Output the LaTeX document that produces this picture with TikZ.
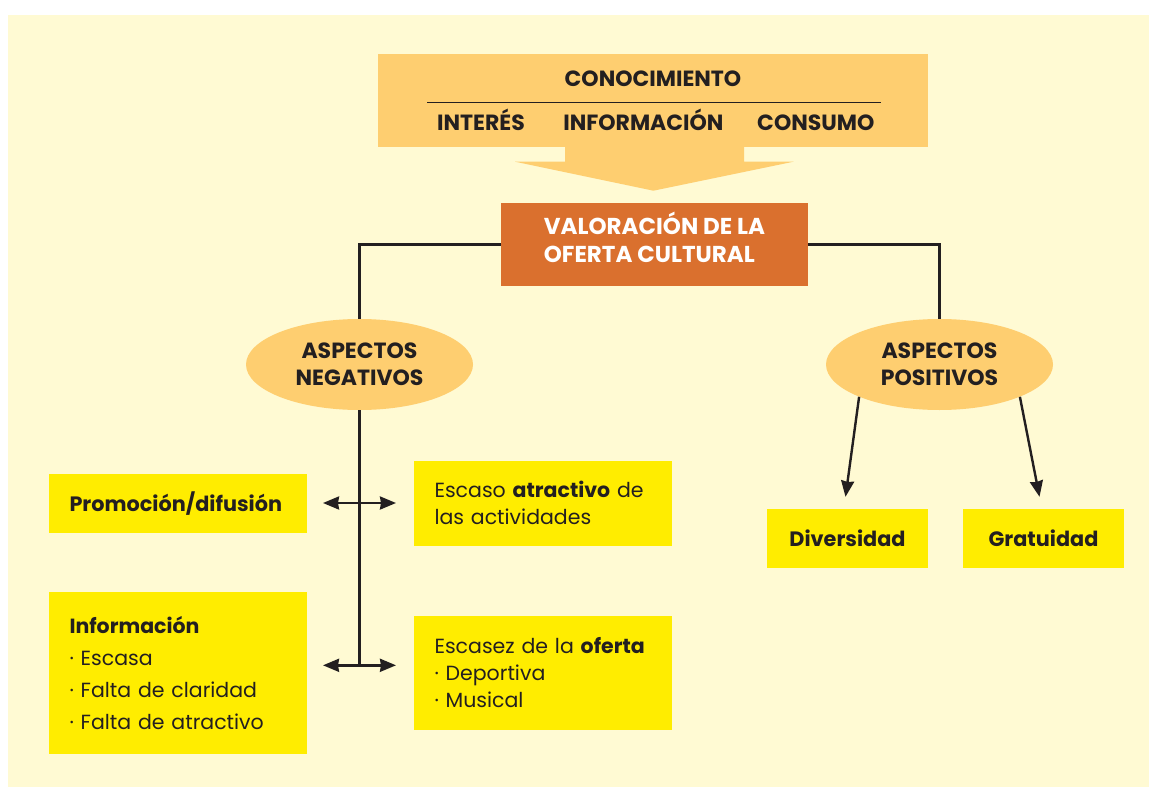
\documentclass[tikz,border=0pt]{standalone}
\usepackage{fontspec}
\setmainfont{Poppins}
\usetikzlibrary{shapes.geometric,arrows.meta}
\definecolor{fondo}{HTML}{FFFAD3}
\definecolor{crema}{HTML}{FECE70}
\definecolor{naranja}{HTML}{DA702E}
\definecolor{amarillo}{HTML}{FFED00}
\definecolor{tinta}{HTML}{231F20}
\begin{document}
\begin{tikzpicture}[x=1pt,y=-1pt,every node/.style={text=tinta,font=\fontsize{20.5}{27}\selectfont},
	negrita/.style={font=\bfseries\fontsize{20.8}{27}\selectfont},
	mayus/.style={font=\bfseries\fontsize{22}{27}\selectfont},
	caja/.style={fill=amarillo,minimum width=258pt,text width=216pt,inner xsep=21pt,align=left},
	cajita/.style={negrita,fill=amarillo,minimum width=161pt,minimum height=59pt},
	aspecto/.style={mayus,ellipse,fill=crema,minimum width=227pt,minimum height=91pt,inner sep=0pt,align=center},
	linea/.style={draw=tinta,line width=2.4pt},
	doble/.style={linea,{Stealth[length=16pt,width=13pt,inset=1pt]}-{Stealth[length=16pt,width=13pt,inset=1pt]}},
	flecha/.style={linea,-{Stealth[length=16pt,width=13pt,inset=1pt]}}]
\fill[fondo] (8,15) rectangle (1149,787);
\useasboundingbox (0,0) rectangle (1149,787);
\node[fill=crema,minimum width=550pt,minimum height=93pt] (conocimiento) at (653,100.5) {};
\fill[crema] (565,146) -- (565,161.7) -- (515,161.7) -- (653.4,190.7) -- (793.6,161.7) -- (744,161.7) -- (744,146) -- cycle;
\node[mayus,anchor=base] (titulo) at (653,86.7) {CONOCIMIENTO};
\draw[tinta,line width=1.2pt] (427,102.3) -- (881,102.3);
\node[mayus,anchor=base] (interes) at (481,130) {INTERÉS};
\node[mayus,anchor=base] (informacion-t) at (643.4,130) {INFORMACIÓN};
\node[mayus,anchor=base] (consumo) at (815.8,130) {CONSUMO};
\node[fill=naranja,minimum width=307pt,minimum height=83pt,align=left,text=white,text depth=14pt,font=\bfseries\fontsize{23}{28}\selectfont] (valoracion) at (654.5,244.5) {VALORACIÓN DE LA\\OFERTA CULTURAL};
\node[aspecto] (negativos) at (359.5,364.5) {ASPECTOS\\NEGATIVOS};
\node[aspecto] (positivos) at (939.5,364.5) {ASPECTOS\\POSITIVOS};
\draw[linea] (valoracion.west) -| (negativos.north);
\draw[linea] (valoracion.east) -| (positivos.north);
\node[caja,minimum height=58.7pt] (promocion) at (177.5,503.5) {\textbf{\fontsize{20.8}{27}\selectfont Promoción/difusión}};
\node[caja,minimum height=84.7pt] (atractivo) at (542.5,503.3) {Escaso \textbf{atractivo} de\\las actividades};
\node[caja,minimum height=162pt] (informacion) at (177.5,673) {\textbf{Información}\\[5pt]· Escasa\\[5pt]· Falta de claridad\\[5pt]· Falta de atractivo};
\node[caja,minimum height=114pt] (oferta) at (542.5,673) {Escasez de la \textbf{oferta}\\· Deportiva\\· Musical};
\coordinate (cruce1) at (359.5,503);
\coordinate (cruce2) at (359.5,665.3);
\draw[linea] (negativos.south) -- (cruce2);
\draw[doble] (cruce1) ++(-36.5,0) -- ++(73,0);
\draw[doble] (cruce2) ++(-36.5,0) -- ++(73,0);
\node[cajita] (diversidad) at (847.5,538.5) {Diversidad};
\node[cajita] (gratuidad) at (1043.5,538.5) {Gratuidad};
\draw[flecha] (positivos.south west) -- ([shift={(-2,-12)}]diversidad.north);
\draw[flecha] (positivos.south east) -- ([shift={(-4,-12)}]gratuidad.north);
\end{tikzpicture}
\end{document}
